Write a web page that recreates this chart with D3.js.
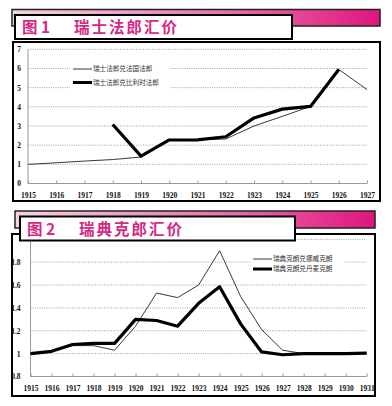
<!DOCTYPE html>
<html>
<head>
<meta charset="utf-8">
<script src="https://cdn.jsdelivr.net/npm/d3@7"></script>
<style>
  body { margin: 0; background: #fff; }
  svg { display: block; }
  .tick text { font-family: "Liberation Serif", serif; font-weight: bold; font-size: 7.5px; fill: #111; }
  .legend text { font-family: "Noto Sans CJK SC", sans-serif; font-size: 6.6px; fill: #333; }
</style>
</head>
<body>
<svg id="chart" width="392" height="406"></svg>
<script>
// chart 1: Swiss franc
var years1 = [1915, 1916, 1917, 1918, 1919, 1920, 1921, 1922, 1923, 1924, 1925, 1926, 1927];
var chfFrf = [1.0, 1.08, 1.17, 1.25, 1.38, 2.3, 2.28, 2.32, 3.0, 3.5, 4.02, 5.95, 4.9];
var chfBef = [null, null, null, 3.08, 1.43, 2.27, 2.28, 2.44, 3.42, 3.88, 4.02, 5.95, null];
var yTicks1 = [0, 1, 2, 3, 4, 5, 6, 7];
var legend1 = ["瑞士法郎兑法国法郎", "瑞士法郎兑比利时法郎"];

// chart 2: Swedish krona
var years2 = [1915, 1916, 1917, 1918, 1919, 1920, 1921, 1922, 1923, 1924, 1925, 1926, 1927, 1928, 1929, 1930, 1931];
var sekNok = [1.0, 1.02, 1.07, 1.07, 1.03, 1.24, 1.53, 1.49, 1.6, 1.9, 1.5, 1.21, 1.03, 1.0, 1.0, 1.0, 1.0];
var sekDkk = [1.0, 1.02, 1.08, 1.09, 1.09, 1.3, 1.29, 1.24, 1.44, 1.585, 1.26, 1.015, 0.99, 1.0, 1.0, 1.0, 1.005];
var yTicks2 = [0.8, 1, 1.2, 1.4, 1.6, 1.8];
var grid2 = [1, 1.2, 1.4, 1.6, 1.8, 2.0];
var legend2 = ["瑞典克朗兑挪威克朗", "瑞典克朗兑丹麦克朗"];

var titles = ["图 1", "图 2"];
var names = ["瑞士法郎汇价", "瑞典克郎汇价"];

var svg = d3.select("#chart");

var defs = svg.append("defs");
var grad = defs.append("linearGradient").attr("id", "bar");
grad.append("stop").attr("offset", "0%").attr("stop-color", "#f3d3e3");
grad.append("stop").attr("offset", "55%").attr("stop-color", "#e778b0");
grad.append("stop").attr("offset", "100%").attr("stop-color", "#e0157d");

function panel(cfg) {
    var g = svg.append("g");

    // frame of the chart
    g.append("rect")
        .attr("x", cfg.box[0]).attr("y", cfg.box[1])
        .attr("width", cfg.box[2] - cfg.box[0]).attr("height", cfg.box[3] - cfg.box[1])
        .attr("fill", "#fff").attr("stroke", "#000").attr("stroke-width", 2);

    var x = d3.scaleLinear().domain(d3.extent(cfg.years)).range(cfg.xr);
    var y = d3.scaleLinear().domain(cfg.yd).range(cfg.yr);

    // dotted gridlines
    g.selectAll(".grid").data(cfg.grid).enter().append("line")
        .attr("x1", cfg.xr[0]).attr("x2", cfg.xr[1])
        .attr("y1", function (d) { return y(d); }).attr("y2", function (d) { return y(d); })
        .attr("stroke", "#777").attr("stroke-width", 0.7).attr("stroke-dasharray", "1,1.3");

    // x axis, ticks pointing up
    var xa = g.append("g").attr("transform", "translate(0," + cfg.yr[0] + ")")
        .call(d3.axisBottom(x).tickValues(cfg.years).tickFormat(d3.format("d")).tickSize(-3).tickPadding(9));
    xa.select(".domain").attr("stroke", "#999").attr("d", "M" + cfg.xr[0] + ",0H" + cfg.xr[1]);
    xa.selectAll(".tick line").attr("stroke", "#999");

    // y axis
    var ya = g.append("g").attr("transform", "translate(" + cfg.xr[0] + ",0)")
        .call(d3.axisLeft(y).tickValues(cfg.yTicks).tickFormat(function (d) { return d; }).tickSize(0).tickPadding(cfg.pad));
    ya.select(".domain").attr("stroke", "#999").attr("d", "M0," + cfg.axisTop + "V" + cfg.yr[0]);

    // legend with white background
    g.append("rect")
        .attr("x", cfg.leg[0] - 3).attr("y", cfg.leg[1] - 7)
        .attr("width", cfg.legW).attr("height", cfg.legGap + 14)
        .attr("fill", "#fff");
    var lg = g.append("g").attr("class", "legend");
    cfg.legend.forEach(function (t, i) {
        var ly = cfg.leg[1] + i * cfg.legGap;
        lg.append("line").attr("x1", cfg.leg[0]).attr("x2", cfg.leg[0] + 19)
            .attr("y1", ly).attr("y2", ly)
            .attr("stroke", i ? "#000" : "#222").attr("stroke-width", i ? 3 : 0.9);
        lg.append("text").attr("x", cfg.leg[0] + 20).attr("y", ly + 2.4).text(t);
    });

    var line = d3.line()
        .defined(function (d) { return d[1] !== null; })
        .x(function (d) { return x(d[0]); })
        .y(function (d) { return y(d[1]); });

    g.append("path").datum(cfg.years.map(function (yr, i) { return [yr, cfg.thin[i]]; }))
        .attr("d", line).attr("fill", "none").attr("stroke", "#222").attr("stroke-width", 0.9);
    g.append("path").datum(cfg.years.map(function (yr, i) { return [yr, cfg.thick[i]]; }))
        .attr("d", line).attr("fill", "none").attr("stroke", "#000").attr("stroke-width", 3.2)
        .attr("stroke-linejoin", "round");

    // title banner
    g.append("rect")
        .attr("x", cfg.bar[0]).attr("y", cfg.bar[1])
        .attr("width", cfg.bar[2] - cfg.bar[0]).attr("height", cfg.bar[3] - cfg.bar[1])
        .attr("fill", "url(#bar)").attr("stroke", "#222").attr("stroke-width", 1.5);
    g.append("rect")
        .attr("x", cfg.tbox[0]).attr("y", cfg.tbox[1])
        .attr("width", cfg.tbox[2] - cfg.tbox[0]).attr("height", cfg.tbox[3] - cfg.tbox[1])
        .attr("fill", "#fff").attr("stroke", "#000").attr("stroke-width", 2);
    var tt = g.append("text")
        .attr("y", cfg.tbox[1] + 18)
        .attr("font-family", "Noto Sans CJK SC, sans-serif").attr("font-weight", "bold")
        .attr("font-size", 15.5).attr("fill", "#d42a83");
    tt.append("tspan").attr("x", cfg.tbox[0] + 7).text(cfg.title);
    tt.append("tspan").attr("x", cfg.tbox[0] + 59).attr("letter-spacing", 2).text(cfg.name);
}

panel({
    box: [13, 42, 380, 201],
    bar: [12, 9.5, 380, 26], tbox: [15, 15, 292, 39],
    title: titles[0], name: names[0],
    years: years1, thin: chfFrf, thick: chfBef,
    xr: [28, 367], yd: [0, 7], yr: [183.5, 49.3], axisTop: 49.3,
    yTicks: yTicks1, grid: yTicks1.slice(1), pad: 7,
    leg: [73, 69], legGap: 13.5, legW: 100, legend: legend1
});

panel({
    box: [12, 234, 375, 396],
    bar: [15, 211, 375, 228], tbox: [20, 216.5, 295, 240.5],
    title: titles[1], name: names[1],
    years: years2, thin: sekNok, thick: sekDkk,
    xr: [30.5, 366.7], yd: [0.8, 2.0], yr: [376.5, 239.3], axisTop: 234,
    yTicks: yTicks2, grid: grid2, pad: 10,
    leg: [253, 259], legGap: 10, legW: 94, legend: legend2
});
</script>
</body>
</html>
